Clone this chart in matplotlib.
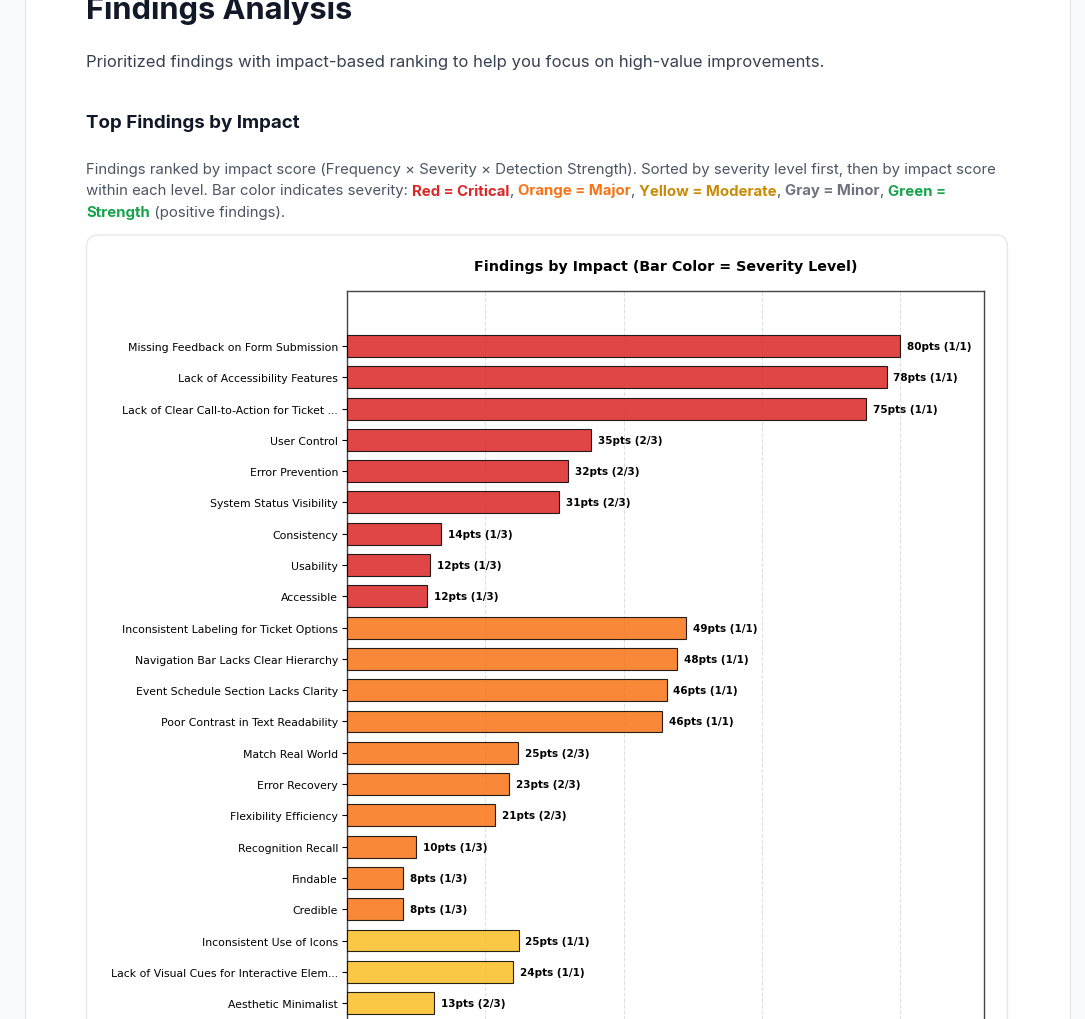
# -*- coding: utf-8 -*-
import matplotlib
matplotlib.use("Agg")
import matplotlib.pyplot as plt
from matplotlib.patches import FancyBboxPatch, Rectangle
from matplotlib.transforms import IdentityTransform

W, H = 1085, 1020

# ---------------- data ----------------
findings = [
    "Missing Feedback on Form Submission",
    "Lack of Accessibility Features",
    "Lack of Clear Call-to-Action for Ticket ...",
    "User Control",
    "Error Prevention",
    "System Status Visibility",
    "Consistency",
    "Usability",
    "Accessible",
    "Inconsistent Labeling for Ticket Options",
    "Navigation Bar Lacks Clear Hierarchy",
    "Event Schedule Section Lacks Clarity",
    "Poor Contrast in Text Readability",
    "Match Real World",
    "Error Recovery",
    "Flexibility Efficiency",
    "Recognition Recall",
    "Findable",
    "Credible",
    "Inconsistent Use of Icons",
    "Lack of Visual Cues for Interactive Elem...",
    "Aesthetic Minimalist",
]
impact = [80, 78, 75, 35.3, 32, 30.7, 13.6, 12, 11.6,
          49, 47.7, 46.2, 45.6, 24.7, 23.4, 21.4, 10, 8.1, 8.1,
          24.8, 24, 12.6]
detected = ["1/1", "1/1", "1/1", "2/3", "2/3", "2/3", "1/3", "1/3", "1/3",
            "1/1", "1/1", "1/1", "1/1", "2/3", "2/3", "2/3", "1/3", "1/3", "1/3",
            "1/1", "1/1", "2/3"]
severity = ["critical"] * 9 + ["major"] * 10 + ["moderate"] * 3

sev_colors = {"critical": "#dc2626", "major": "#f97316", "moderate": "#fbbf24",
              "minor": "#9ca3af", "strength": "#22c55e"}

plt.rcParams['font.family'] = ['DejaVu Sans']

fig = plt.figure(figsize=(W / 100, H / 100), dpi=100)
fig.patch.set_facecolor("#f9fafb")

# page card + chart card (pixel coords, origin bottom-left)
ident = IdentityTransform()
fig.patches.append(Rectangle((25, -10), 1045, H + 20, transform=ident,
                             facecolor="white", edgecolor="#e5e7eb", lw=1, zorder=0))
fig.patches.append(FancyBboxPatch((86.5, -40), 921, H - 236 + 40, transform=ident,
                                  boxstyle="round,pad=0,rounding_size=12",
                                  facecolor="white", edgecolor="#e5e7eb", lw=1, zorder=1))


def ftext(x, y, s, **kw):
    return fig.text(x / W, 1 - y / H, s, **kw)


ftext(86, 19, "Findings Analysis", family="Inter", weight="bold", fontsize=22.2,
      color="#111827", va="baseline")
ftext(86, 63, "Prioritized findings with impact-based ranking to help you focus on high-value improvements.",
      family="Inter", fontsize=12.0, color="#374151", va="center")
ftext(86, 123, "Top Findings by Impact", family="Inter", weight="bold", fontsize=13.5,
      color="#111827", va="center")

# paragraph with coloured spans
para = [
    [("Findings ranked by impact score (Frequency × Severity × Detection Strength). Sorted by severity level first, then by impact score", "#4b5563", "normal")],
    [("within each level. Bar color indicates severity: ", "#4b5563", "normal"),
     ("Red = Critical", "#dc2626", "bold"), (", ", "#4b5563", "normal"),
     ("Orange = Major", "#f97316", "bold"), (", ", "#4b5563", "normal"),
     ("Yellow = Moderate", "#ca8a04", "bold"), (", ", "#4b5563", "normal"),
     ("Gray = Minor", "#6b7280", "bold"), (", ", "#4b5563", "normal"),
     ("Green =", "#16a34a", "bold")],
    [("Strength", "#16a34a", "bold"), (" (positive findings).", "#4b5563", "normal")],
]
renderer = fig.canvas.get_renderer()
for i, line in enumerate(para):
    x = 86
    y = 174 + i * 21.5
    for s, c, w in line:
        t = ftext(x, y, s, family="Inter", fontsize=10.75, color=c, weight=w, va="baseline")
        x += t.get_window_extent(renderer).width

# ---------------- chart ----------------
ax_left, ax_right, ax_top, ax_bot = 347, 984, 292, 1100
row_px, unit_px = 31.29, 6.917
ax = fig.add_axes([ax_left / W, 1 - ax_bot / H, (ax_right - ax_left) / W, (ax_bot - ax_top) / H])
ax.set_zorder(3)

ypos = list(range(len(findings)))
colors = [sev_colors[s] for s in severity]
ax.barh(ypos, impact, height=0.7, color=colors, alpha=0.85,
        edgecolor="black", linewidth=0.8, zorder=3)

for y, v, d in zip(ypos, impact, detected):
    ax.text(v + 1, y, f"{round(v)}pts ({d})", va="center", ha="left",
            fontsize=7.5, weight="bold", color="black")

top = -(347 - ax_top) / row_px
ax.set_ylim(top + (ax_bot - ax_top) / row_px, top)
ax.set_xlim(0, (ax_right - ax_left) / unit_px)
ax.set_yticks(ypos)
ax.set_yticklabels(findings, fontsize=7.8)
ax.set_xticks([0, 20, 40, 60, 80])
ax.tick_params(axis="x", labelbottom=False, length=0)
ax.tick_params(axis="y", length=3.5, width=0.8, pad=3)
ax.grid(axis="x", linestyle="--", color="#cccccc", alpha=0.6, linewidth=0.8, zorder=0)
for sp in ax.spines.values():
    sp.set_color("#444444")
    sp.set_linewidth(1.0)

fig.text((ax_left + ax_right) / 2 / W, 1 - 267 / H,
         "Findings by Impact (Bar Color = Severity Level)",
         ha="center", va="center", fontsize=10.3, weight="bold", color="black")

fig.savefig("out.png", dpi=100, facecolor=fig.get_facecolor())
